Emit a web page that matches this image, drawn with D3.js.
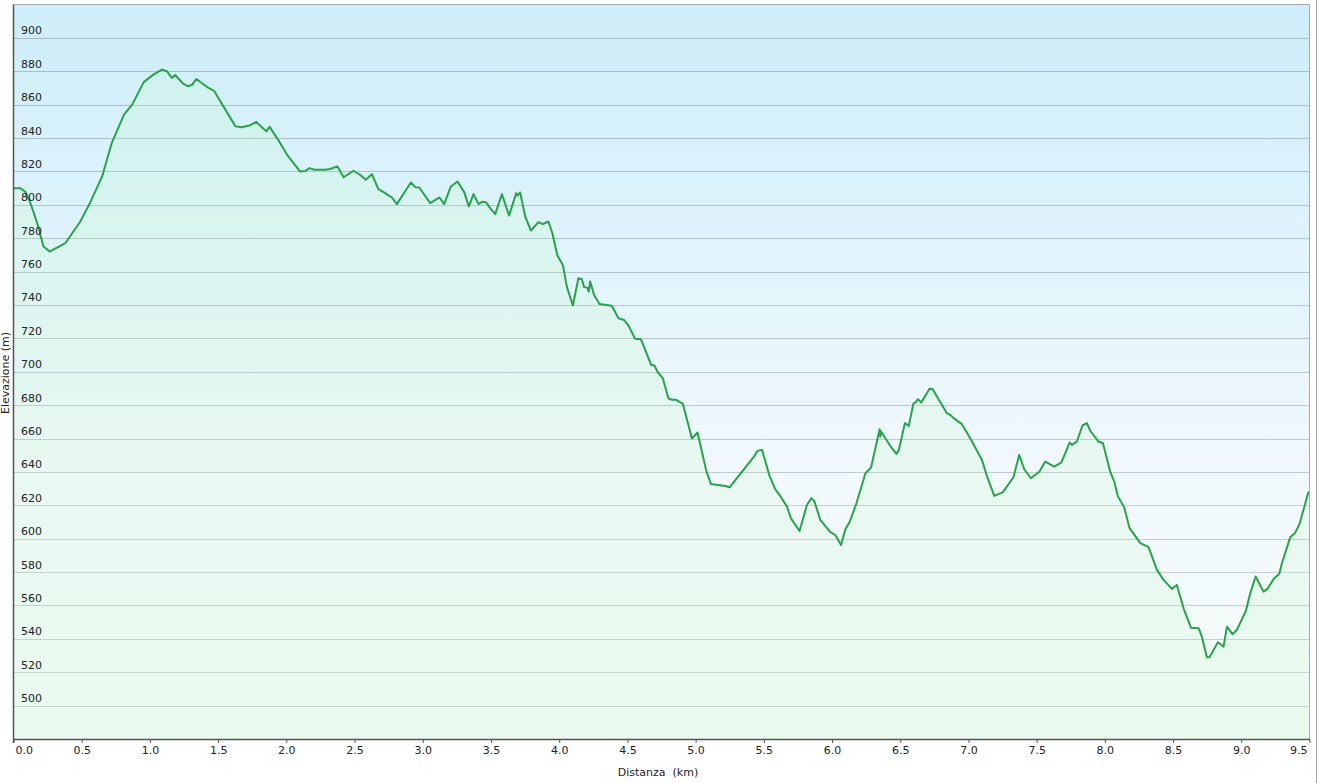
<!DOCTYPE html>
<html>
<head>
<meta charset="utf-8">
<script src="https://cdn.jsdelivr.net/npm/d3@7/dist/d3.min.js"></script>
<style>
  html, body { margin: 0; padding: 0; background: #ffffff; }
  svg { display: block; font-family: "DejaVu Sans", Verdana, sans-serif; }
</style>
</head>
<body>
<svg id="chart" width="1321" height="783"></svg>
<script>
const distanceKm = [0, 0.05, 0.085, 0.12, 0.17, 0.22, 0.265, 0.38, 0.43, 0.49, 0.56, 0.65, 0.72, 0.81, 0.87, 0.955, 1.025, 1.088, 1.125, 1.16, 1.185, 1.24, 1.28, 1.31, 1.34, 1.38, 1.43, 1.47, 1.627, 1.674, 1.735, 1.78, 1.813, 1.853, 1.877, 1.94, 2.01, 2.1, 2.14, 2.17, 2.205, 2.285, 2.32, 2.375, 2.42, 2.492, 2.54, 2.582, 2.627, 2.675, 2.724, 2.774, 2.81, 2.87, 2.913, 2.945, 2.974, 3.055, 3.123, 3.157, 3.206, 3.255, 3.304, 3.338, 3.372, 3.409, 3.434, 3.463, 3.494, 3.531, 3.58, 3.633, 3.685, 3.695, 3.714, 3.751, 3.793, 3.848, 3.88, 3.921, 3.95, 3.987, 4.027, 4.056, 4.1, 4.141, 4.166, 4.183, 4.207, 4.217, 4.227, 4.256, 4.295, 4.386, 4.434, 4.476, 4.508, 4.557, 4.599, 4.675, 4.699, 4.72, 4.76, 4.801, 4.826, 4.858, 4.907, 4.973, 5.014, 5.078, 5.112, 5.217, 5.249, 5.425, 5.454, 5.487, 5.542, 5.584, 5.62, 5.67, 5.699, 5.762, 5.816, 5.848, 5.87, 5.914, 5.988, 6.024, 6.066, 6.098, 6.13, 6.179, 6.245, 6.286, 6.349, 6.354, 6.359, 6.43, 6.472, 6.49, 6.534, 6.563, 6.596, 6.614, 6.63, 6.654, 6.715, 6.737, 6.842, 6.866, 6.891, 6.952, 7.013, 7.099, 7.135, 7.189, 7.253, 7.33, 7.372, 7.409, 7.458, 7.521, 7.563, 7.629, 7.68, 7.717, 7.741, 7.759, 7.795, 7.836, 7.868, 7.892, 7.953, 7.986, 8.039, 8.069, 8.096, 8.142, 8.181, 8.26, 8.32, 8.382, 8.43, 8.492, 8.528, 8.577, 8.631, 8.687, 8.711, 8.748, 8.767, 8.829, 8.87, 8.895, 8.936, 8.968, 9.034, 9.066, 9.105, 9.163, 9.192, 9.241, 9.278, 9.298, 9.359, 9.395, 9.427, 9.493];
const elevationM = [810, 810, 808, 802, 790, 775, 772, 777, 783, 790, 801, 817, 837, 854, 860, 873.5, 878, 881, 880, 876, 877.8, 872.8, 871, 872, 875.3, 873, 870, 868.3, 847, 846.5, 847.7, 849.7, 847, 844, 846.7, 839, 829.4, 820, 820.3, 822, 821, 821, 821.5, 823, 816.5, 820.4, 818, 815, 818.3, 809.4, 807, 804.4, 800.4, 808, 813.4, 810.6, 810.4, 801, 804.4, 800.4, 811, 814, 807.6, 799, 806.4, 800.4, 801.8, 801.6, 798, 794.4, 806.4, 793.6, 807, 805.6, 807.4, 793, 784.6, 789.6, 788.4, 790, 783, 769.6, 764, 751, 739.7, 756, 755.4, 750.7, 750.4, 748, 754, 746, 740.6, 739.5, 732, 731, 727.7, 719.7, 719.5, 704, 703.7, 700, 696, 684, 683.2, 683.2, 680.7, 660, 663.6, 640.8, 632.8, 631.6, 630.8, 648.8, 652.6, 653.2, 637.6, 629.6, 625.6, 619.2, 612.2, 604.6, 620.2, 624.2, 622.6, 611.3, 603.9, 602.2, 596.2, 605.6, 610.2, 621.2, 639.2, 642.6, 665.6, 661.2, 664.2, 655.2, 650.8, 653.2, 669.2, 667.6, 680.8, 681.8, 683.6, 681.6, 689.8, 689.6, 675.2, 674.2, 672.2, 668.6, 660.2, 647.2, 637.7, 625.6, 627.9, 636.8, 650.2, 641.6, 636.2, 640.2, 646.2, 643.2, 645.6, 652.6, 657.6, 656.2, 658.2, 667.8, 669.2, 664.8, 658.2, 657.2, 640.2, 634.2, 625.2, 618.8, 606.3, 597.3, 594.9, 581.3, 575.3, 569.9, 572.3, 558.3, 546.7, 546.4, 541.3, 529, 529, 538, 535.3, 547.3, 542.8, 545.4, 556.8, 567.4, 577.3, 568.3, 569.9, 576.3, 578.9, 585.3, 600.9, 603.6, 608.8, 628.2];
const xTickValues = [0, 0.5, 1, 1.5, 2, 2.5, 3, 3.5, 4, 4.5, 5, 5.5, 6, 6.5, 7, 7.5, 8, 8.5, 9, 9.5];
const yTickValues = [500, 520, 540, 560, 580, 600, 620, 640, 660, 680, 700, 720, 740, 760, 780, 800, 820, 840, 860, 880, 900];
const xTitle = "Distanza  (km)";
const yTitle = "Elevazione (m)";

const data = distanceKm.map((d, i) => ({ d, e: elevationM[i] }));

const L = 13.5, R = 1309.5, T = 4.5, B = 739;
const x = d3.scaleLinear().domain([0, 9.5]).range([L, R]);
const y = d3.scaleLinear().domain([480, 920]).range([B, T]);

const svg = d3.select("#chart");
const defs = svg.append("defs");

const bg = defs.append("linearGradient").attr("id", "bg").attr("x1", 0).attr("y1", 0).attr("x2", 0).attr("y2", 1);
bg.append("stop").attr("offset", "0%").attr("stop-color", "#cdeefa");
bg.append("stop").attr("offset", "65%").attr("stop-color", "#f2f9fd");
bg.append("stop").attr("offset", "100%").attr("stop-color", "#f3fbf8");

const af = defs.append("linearGradient").attr("id", "af").attr("gradientUnits", "userSpaceOnUse")
  .attr("x1", 0).attr("y1", T).attr("x2", 0).attr("y2", B);
af.append("stop").attr("offset", "0%").attr("stop-color", "#c4ffb4").attr("stop-opacity", 0.16);
af.append("stop").attr("offset", "100%").attr("stop-color", "#a8f0a8").attr("stop-opacity", 0.13);

// frame line on the right
svg.append("line").attr("x1", 1316.5).attr("x2", 1316.5).attr("y1", 0).attr("y2", 783)
  .attr("stroke", "#a8a8a8").attr("stroke-width", 1);

// plot background
svg.append("rect").attr("x", L).attr("y", T).attr("width", R - L).attr("height", B - T)
  .attr("fill", "url(#bg)");

// gridlines
const gridColor = d3.scaleLinear().domain([900, 500]).range(["#a9bcc6", "#cbd4d3"]);
svg.append("g").selectAll("line").data(yTickValues).join("line")
  .attr("x1", L).attr("x2", R)
  .attr("y1", d => Math.round(y(d)) + 0.5).attr("y2", d => Math.round(y(d)) + 0.5)
  .attr("stroke", d => gridColor(d)).attr("stroke-width", 1);

// area
const area = d3.area().x(d => x(d.d)).y0(B).y1(d => y(d.e));
svg.append("path").datum(data).attr("d", area).attr("fill", "url(#af)");

// line
const line = d3.line().x(d => x(d.d)).y(d => y(d.e));
svg.append("path").datum(data).attr("d", line).attr("fill", "none")
  .attr("stroke", "#2aa14c").attr("stroke-width", 2).attr("stroke-linejoin", "round");

// borders
svg.append("line").attr("x1", L).attr("x2", R).attr("y1", T).attr("y2", T).attr("stroke", "#aaaaaa");
svg.append("line").attr("x1", R).attr("x2", R).attr("y1", T).attr("y2", B).attr("stroke", "#aaaaaa");

// y labels
svg.append("g").selectAll("text").data(yTickValues).join("text")
  .attr("x", 21).attr("y", d => y(d) - 3.5)
  .attr("font-size", 11).attr("fill", "#222")
  .text(d => d);

// x axis
const xAxis = d3.axisBottom(x).tickValues(xTickValues).tickSize(4).tickSizeOuter(0)
  .tickFormat(d3.format(".1f"));
const gx = svg.append("g").attr("transform", `translate(0,${B})`).call(xAxis);
gx.select(".domain").attr("stroke", "#555").attr("stroke-width", 1.5);
gx.selectAll(".tick line").attr("stroke", "#555");
gx.selectAll(".tick text").attr("font-size", 11).attr("fill", "#222")
  .attr("font-family", "DejaVu Sans, Verdana, sans-serif").attr("dy", "0.8em").attr("y", 6);
gx.selectAll(".tick text").filter(d => d === 0).attr("text-anchor", "start").attr("x", 1.5);
gx.selectAll(".tick text").filter(d => d === 9.5).attr("text-anchor", "end").attr("x", -2.5);

// left axis line
svg.append("line").attr("x1", L).attr("x2", L).attr("y1", T).attr("y2", B + 4)
  .attr("stroke", "#555").attr("stroke-width", 1.5);

// titles
svg.append("text").attr("x", 658).attr("y", 776).attr("text-anchor", "middle")
  .attr("font-size", 11).attr("fill", "#222").style("white-space", "pre").text(xTitle);
svg.append("text").attr("transform", "translate(9,373) rotate(-90)").attr("text-anchor", "middle")
  .attr("font-size", 11).attr("fill", "#222").text(yTitle);
</script>
</body>
</html>
